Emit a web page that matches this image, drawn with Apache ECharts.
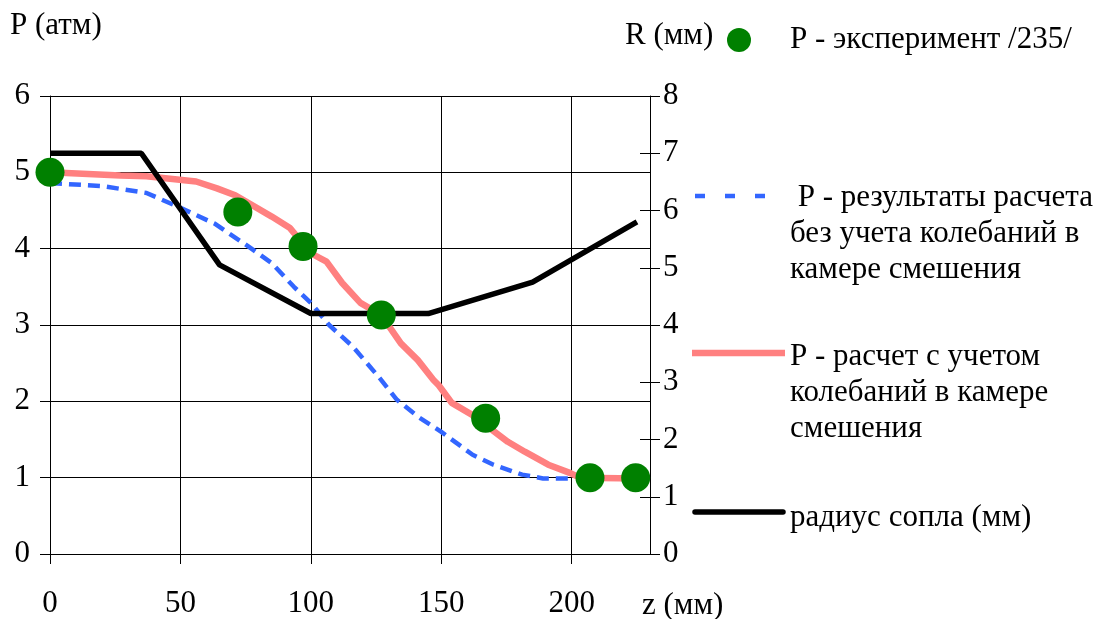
<!DOCTYPE html>
<html><head><meta charset="utf-8">
<script src="https://cdn.jsdelivr.net/npm/echarts@6/dist/echarts.min.js"></script>
<style>html,body{margin:0;padding:0;background:#fff}#c{width:1117px;height:619px}</style>
</head><body><div id="c"></div>
<script>
// z (мм), P (атм) — experiment
const expZ = [0, 72, 97, 127, 167, 207, 224.5];
const expP = [5.0, 4.48, 4.03, 3.13, 1.78, 1.0, 1.0];
// P — расчет с учетом колебаний
const calcZ = [0, 27, 37, 56, 64, 71, 85, 92, 100, 106, 112, 119, 127, 134.5, 141, 147, 149, 154, 162, 175.5, 182, 191, 199.5, 203, 226];
const calcP = [5.0, 4.96, 4.95, 4.88, 4.79, 4.70, 4.42, 4.27, 3.94, 3.83, 3.55, 3.29, 3.13, 2.76, 2.54, 2.28, 2.21, 1.98, 1.82, 1.47, 1.34, 1.17, 1.06, 1.0, 0.99];
// P — без учета колебаний
const noZ = [0, 20, 37, 49, 63, 76, 85, 93.5, 100, 107, 116, 126, 133, 141, 150, 162, 170, 181, 189, 200];
const noP = [4.86, 4.82, 4.73, 4.55, 4.33, 4.03, 3.81, 3.50, 3.29, 3.0, 2.72, 2.32, 2.02, 1.80, 1.60, 1.30, 1.17, 1.04, 0.99, 0.99];
// радиус сопла (мм)
const radZ = [0, 35, 65, 100, 145, 185, 225];
const radR = [7.0, 7.0, 5.05, 4.2, 4.2, 4.75, 5.8];
// tick labels
const xTicks = [0, 50, 100, 150, 200];
const legendNames = ['P - эксперимент /235/', ' P - результаты расчета\nбез учета колебаний в\nкамере смешения', 'P - расчет с учетом\nколебаний в камере\nсмешения', 'радиус сопла (мм)'];

const F = 'Liberation Serif';
const FS = 31;
const pair = (a, b) => a.map((v, i) => [v, b[i]]);
const chart = echarts.init(document.getElementById('c'));
const lblStyle = { color: '#000', fontFamily: F, fontSize: FS };
const txt = (x, y, s) => ({ type: 'text', left: x, top: y,
  style: { text: s, fontFamily: F, fontSize: FS, fill: '#000', lineHeight: 36 } });
chart.setOption({
  animation: false,
  grid: { left: 50, right: 467, top: 96, bottom: 65 },
  xAxis: {
    type: 'value', min: 0, max: 230, interval: 50,
    axisLine: { lineStyle: { color: '#000', width: 1 } },
    axisTick: { show: true, length: 10, lineStyle: { color: '#000' } },
    splitLine: { show: true, lineStyle: { color: '#000', width: 1 } },
    axisLabel: Object.assign({ margin: 34, showMaxLabel: false,
      formatter: v => xTicks.indexOf(v) >= 0 ? String(v) : '' }, lblStyle)
  },
  yAxis: [
    { type: 'value', min: 0, max: 6, interval: 1, position: 'left',
      axisLine: { show: true, lineStyle: { color: '#000' } },
      axisTick: { show: true, length: 10, lineStyle: { color: '#000' } },
      splitLine: { show: true, lineStyle: { color: '#000', width: 1 } },
      axisLabel: Object.assign({ margin: 20 }, lblStyle) },
    { type: 'value', min: 0, max: 8, interval: 1, position: 'right',
      axisLine: { show: true, lineStyle: { color: '#000' } },
      axisTick: { show: true, length: 10, lineStyle: { color: '#000' } },
      splitLine: { show: false },
      axisLabel: Object.assign({ margin: 13 }, lblStyle) },
    { type: 'value', min: 0, max: 8, interval: 1, position: 'right',
      axisLine: { show: false },
      axisTick: { show: true, inside: true, length: 10, lineStyle: { color: '#000' } },
      splitLine: { show: false }, axisLabel: { show: false } }
  ],
  series: [
    { type: 'line', yAxisIndex: 0, data: pair(noZ, noP), symbol: 'none',
      lineStyle: { color: '#3366FF', width: 4.5, type: [12, 7] }, z: 2 },
    { type: 'line', yAxisIndex: 0, data: pair(calcZ, calcP), symbol: 'none',
      lineStyle: { color: '#FF8080', width: 6.5 }, z: 3 },
    { type: 'line', yAxisIndex: 1, data: pair(radZ, radR), symbol: 'none',
      lineStyle: { color: '#000', width: 5.5 }, z: 4 },
    { type: 'scatter', yAxisIndex: 0, data: pair(expZ, expP), symbol: 'circle',
      symbolSize: 29, itemStyle: { color: '#008000', opacity: 1 }, z: 5 }
  ],
  graphic: [
    txt(10, 8, 'P (атм)'),
    txt(625, 18, 'R (мм)'),
    txt(642, 588, 'z (мм)'),
    { type: 'circle', shape: { cx: 739, cy: 40, r: 12 }, style: { fill: '#008000' } },
    txt(790, 22, legendNames[0]),
    { type: 'line', shape: { x1: 695, y1: 196, x2: 765, y2: 196 }, style: { stroke: '#3366FF', lineWidth: 4.5, lineDash: [10, 20] } },
    txt(790, 180, legendNames[1]),
    { type: 'line', shape: { x1: 692, y1: 353, x2: 785, y2: 353 }, style: { stroke: '#FF8080', lineWidth: 6.5 } },
    txt(790, 339, legendNames[2]),
    { type: 'line', shape: { x1: 695, y1: 512, x2: 783, y2: 512 }, style: { stroke: '#000', lineWidth: 5.5, lineCap: 'round' } },
    txt(790, 500, legendNames[3])
  ]
});
</script></body></html>
